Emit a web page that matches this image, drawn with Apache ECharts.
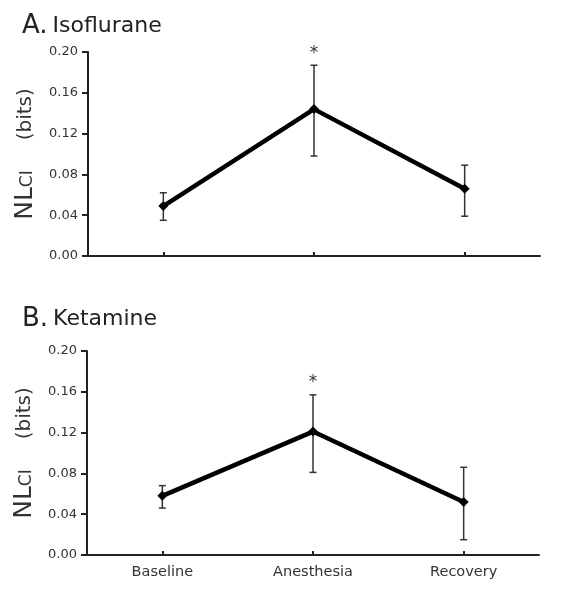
<!DOCTYPE html>
<html><head><meta charset="utf-8">
<script src="https://cdn.jsdelivr.net/npm/echarts@6/dist/echarts.min.js"></script>
<style>html,body{margin:0;padding:0;background:#fff}#c{width:561px;height:600px}</style>
</head><body><div id="c"></div>
<script>
const categories = ['Baseline', 'Anesthesia', 'Recovery'];
const yTicks = [0, 0.04, 0.08, 0.12, 0.16, 0.20];
// Panel A: Isoflurane
const isoMean = [0.049, 0.144, 0.066];
const isoLow  = [0.035, 0.098, 0.039];
const isoHigh = [0.062, 0.187, 0.089];
const isoSig  = ['', '*', ''];
// Panel B: Ketamine
const ketMean = [0.058, 0.121, 0.052];
const ketLow  = [0.046, 0.081, 0.015];
const ketHigh = [0.068, 0.157, 0.086];
const ketSig  = ['', '*', ''];

const FONT = 'DejaVu Sans';
const chart = echarts.init(document.getElementById('c'), null, {renderer: 'canvas'});

function errData(low, high, sig) {
  return categories.map((c, i) => [i, low[i], high[i], sig[i]]);
}
function errRender(params, api) {
  const x = api.value(0);
  const lo = api.coord([x, api.value(1)]);
  const hi = api.coord([x, api.value(2)]);
  const s = {stroke: '#333', lineWidth: 1.5};
  const children = [
    {type: 'line', shape: {x1: lo[0], y1: lo[1], x2: hi[0], y2: hi[1]}, style: s},
    {type: 'line', shape: {x1: lo[0] - 3.5, y1: lo[1], x2: lo[0] + 3.5, y2: lo[1]}, style: s},
    {type: 'line', shape: {x1: hi[0] - 3.5, y1: hi[1], x2: hi[0] + 3.5, y2: hi[1]}, style: s}
  ];
  const label = api.value(3);
  if (label) {
    children.push({type: 'text', x: hi[0], y: hi[1] - 12,
      style: {text: label, font: '17px ' + FONT, fill: '#333', align: 'center', verticalAlign: 'middle'}});
  }
  return {type: 'group', children};
}

function yAxis(gi) {
  return {
    type: 'value', gridIndex: gi, min: 0, max: 0.2, interval: 0.04,
    axisLine: {show: true, lineStyle: {color: '#222', width: 2}},
    axisTick: {show: true, inside: false, length: 6, lineStyle: {color: '#222', width: 2}},
    splitLine: {show: false},
    axisLabel: {color: '#333', fontFamily: FONT, fontSize: 13, margin: 10,
      formatter: v => v.toFixed(2)},
    name: '{a|NL}{b|CI}{c|(bits)}',
    nameLocation: 'middle', nameGap: 50, nameRotate: 90,
    nameTextStyle: {rich: {
      a: {fontFamily: FONT, fontSize: 25, color: '#333'},
      b: {fontFamily: FONT, fontSize: 17, color: '#333', padding: [4, 0, 0, 0]},
      c: {fontFamily: FONT, fontSize: 20, color: '#333', padding: [0, 0, 0, 30]}
    }}
  };
}
function xAxis(gi, showLabels) {
  return {
    type: 'category', gridIndex: gi, data: categories, boundaryGap: true,
    axisLine: {show: true, lineStyle: {color: '#222', width: 2}},
    axisTick: {show: true, inside: true, alignWithLabel: true, length: 4, lineStyle: {color: '#222', width: 2}},
    axisLabel: {show: showLabels, color: '#333', fontFamily: FONT, fontSize: 14.5, margin: 10}
  };
}
function titleA(txt, sub, top) {
  return {text: '{l|' + txt + '} {t|' + sub + '}', left: 17, top: top,
    textStyle: {rich: {
      l: {fontFamily: FONT, fontSize: 26, color: '#222', fontWeight: 'normal'},
      t: {fontFamily: FONT, fontSize: 22, color: '#222', fontWeight: 'normal'}
    }}};
}

chart.setOption({
  animation: false,
  backgroundColor: '#fff',
  title: [titleA('A.', 'Isoflurane', 8), titleA('B.', 'Ketamine', 301)],
  grid: [
    {left: 88, right: 21, top: 52, height: 204},
    {left: 87, right: 22, top: 351, height: 204}
  ],
  xAxis: [xAxis(0, false), xAxis(1, true)],
  yAxis: [yAxis(0), yAxis(1)],
  series: [
    {type: 'custom', xAxisIndex: 0, yAxisIndex: 0, data: errData(isoLow, isoHigh, isoSig),
      renderItem: errRender, z: 1},
    {type: 'line', xAxisIndex: 0, yAxisIndex: 0, data: isoMean, symbol: 'diamond', symbolSize: 10,
      lineStyle: {color: '#000', width: 4.5}, itemStyle: {color: '#000'}, z: 3},
    {type: 'custom', xAxisIndex: 1, yAxisIndex: 1, data: errData(ketLow, ketHigh, ketSig),
      renderItem: errRender, z: 1},
    {type: 'line', xAxisIndex: 1, yAxisIndex: 1, data: ketMean, symbol: 'diamond', symbolSize: 10,
      lineStyle: {color: '#000', width: 4.5}, itemStyle: {color: '#000'}, z: 3}
  ]
});
</script></body></html>
